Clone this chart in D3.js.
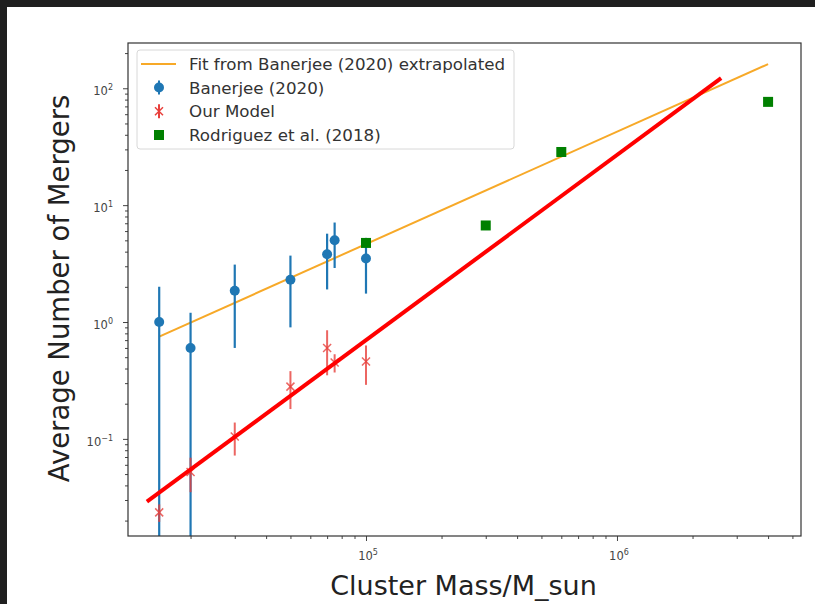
<!DOCTYPE html>
<html><head><meta charset="utf-8">
<script src="https://cdn.jsdelivr.net/npm/d3@7"></script>
<style>
html,body{margin:0;padding:0;background:#1f1f1f;}
svg{display:block;}
</style></head>
<body>
<svg id="chart" width="815" height="604"></svg>
<script>
// ---- data ----
const blueMass = [15000, 20000, 30000, 50000, 70000, 75000, 100000];
const blueVal  = [1.0, 0.6, 1.85, 2.3, 3.8, 5.0, 3.5];
const blueErr  = [1.0, 0.6, 1.25, 1.4, 1.9, 2.1, 1.75];

const redMass = [15000, 20000, 30000, 50000, 70000, 75000, 100000];
const redVal  = [0.0235, 0.052, 0.105, 0.28, 0.6, 0.45, 0.46];
const redErr  = [0.004, 0.017, 0.033, 0.1, 0.25, 0.08, 0.17];

const fitMass = [15000, 4000000];
const fitVal  = [0.75, 161];

const modelLineMass = [13400, 2600000];
const modelLineVal  = [0.029, 122];

const rodMass = [100000, 300000, 600000, 4000000];
const rodVal  = [4.75, 6.7, 28.5, 76.5];

const xMajor = [1e5, 1e6];
const xMajorExp = ["5", "6"];
const yMajor = [0.1, 1, 10, 100];
const yMajorExp = ["\u22121", "0", "1", "2"];

const legendLabels = ["Fit from Banerjee (2020) extrapolated", "Banerjee (2020)", "Our Model", "Rodriguez et al. (2018)"];

// ---- layout ----
const svg = d3.select("#chart");
svg.append("rect").attr("x", 7).attr("y", 7).attr("width", 808).attr("height", 597).attr("fill", "#ffffff");

const L = 128, R = 801, T = 43, B = 536;
const x = d3.scaleLog().domain([11266, 5.41e6]).range([L, R]);
const y = d3.scaleLog().domain([0.01476, 244]).range([B, T]);

const blue = "#1f77b4", red = "#ff0000", orange = "#f7a928", green = "#008000", redErrCol = "#e8403c";

const xMinor = [], yMinor = [];
for (let e = 4; e <= 6; e++) for (let k = 2; k <= 9; k++) { const v = k * Math.pow(10, e); if (v > 11266 && v < 5.41e6) xMinor.push(v); }
for (let e = -2; e <= 2; e++) for (let k = 2; k <= 9; k++) { const v = k * Math.pow(10, e); if (v > 0.01476 && v < 244) yMinor.push(v); }

// axes ticks
const gx = svg.append("g").attr("transform", `translate(0,${B})`);
gx.call(d3.axisBottom(x).tickValues(xMinor).tickSize(3).tickFormat(""));
const gxM = svg.append("g").attr("transform", `translate(0,${B})`);
gxM.call(d3.axisBottom(x).tickValues(xMajor).tickSize(5).tickFormat(""));
const gy = svg.append("g").attr("transform", `translate(${L},0)`);
gy.call(d3.axisLeft(y).tickValues(yMinor).tickSize(3).tickFormat(""));
const gyM = svg.append("g").attr("transform", `translate(${L},0)`);
gyM.call(d3.axisLeft(y).tickValues(yMajor).tickSize(5).tickFormat(""));
[gx, gxM, gy, gyM].forEach(g => { g.select(".domain").remove(); g.selectAll("line").attr("stroke", "#444"); });

// tick labels
xMajor.forEach((v, i) => {
  const t = svg.append("text").attr("x", x(v) + 2).attr("y", B + 24).attr("text-anchor", "middle")
    .attr("font-family", "DejaVu Sans").attr("font-size", 11.5).attr("fill", "#444");
  t.append("tspan").text("10");
  t.append("tspan").attr("dy", -5).attr("font-size", 8).text(xMajorExp[i]);
});
yMajor.forEach((v, i) => {
  const t = svg.append("text").attr("x", L - 15).attr("y", y(v) + 7).attr("text-anchor", "end")
    .attr("font-family", "DejaVu Sans").attr("font-size", 11.5).attr("fill", "#444");
  t.append("tspan").text("10");
  t.append("tspan").attr("dy", -5).attr("font-size", 8).text(yMajorExp[i]);
});

// axis labels
svg.append("text").attr("x", 463.5).attr("y", 595).attr("text-anchor", "middle")
  .attr("font-family", "DejaVu Sans").attr("font-size", 27).attr("fill", "#222").text("Cluster Mass/M_sun");
svg.append("text").attr("transform", `translate(69,288.5) rotate(-90)`).attr("text-anchor", "middle")
  .attr("font-family", "DejaVu Sans").attr("font-size", 27.5).attr("fill", "#222").text("Average Number of Mergers");

// plot content with clip
svg.append("clipPath").attr("id", "clip").append("rect").attr("x", L).attr("y", T).attr("width", R - L).attr("height", B - T);
const plot = svg.append("g").attr("clip-path", "url(#clip)");
const line = d3.line().x(d => x(d[0])).y(d => y(d[1]));
const safeY = v => (v <= 0 ? B + 20 : y(v));

// orange fit line
plot.append("path").datum(fitMass.map((m, i) => [m, fitVal[i]])).attr("d", line)
  .attr("fill", "none").attr("stroke", orange).attr("stroke-width", 2);

// blue errorbars
blueMass.forEach((m, i) => {
  plot.append("line").attr("x1", x(m)).attr("x2", x(m))
    .attr("y1", safeY(blueVal[i] - blueErr[i])).attr("y2", y(blueVal[i] + blueErr[i]))
    .attr("stroke", blue).attr("stroke-width", 2.2);
  plot.append("circle").attr("cx", x(m)).attr("cy", y(blueVal[i])).attr("r", 5).attr("fill", blue);
});

// red errorbars
redMass.forEach((m, i) => {
  plot.append("line").attr("x1", x(m)).attr("x2", x(m))
    .attr("y1", safeY(redVal[i] - redErr[i])).attr("y2", y(redVal[i] + redErr[i]))
    .attr("stroke", redErrCol).attr("stroke-width", 2).attr("opacity", 0.8);
  const cx = x(m), cy = y(redVal[i]), s = 4;
  plot.append("path").attr("d", `M${cx - s},${cy - s}L${cx + s},${cy + s}M${cx - s},${cy + s}L${cx + s},${cy - s}`)
    .attr("stroke", redErrCol).attr("stroke-width", 1.5).attr("opacity", 0.8);
});

// red model line
plot.append("path").datum(modelLineMass.map((m, i) => [m, modelLineVal[i]])).attr("d", line)
  .attr("fill", "none").attr("stroke", red).attr("stroke-width", 4);

// green squares
rodMass.forEach((m, i) => {
  plot.append("rect").attr("x", x(m) - 5).attr("y", y(rodVal[i]) - 5).attr("width", 10).attr("height", 10).attr("fill", green);
});

// frame
svg.append("rect").attr("x", L).attr("y", T).attr("width", R - L).attr("height", B - T)
  .attr("fill", "none").attr("stroke", "#333").attr("stroke-width", 1.2);

// legend
const lg = svg.append("g");
lg.append("rect").attr("x", 137).attr("y", 50).attr("width", 377).attr("height", 99).attr("rx", 3)
  .attr("fill", "#fff").attr("fill-opacity", 0.8).attr("stroke", "#d8d8d8");
const rowY = [64, 87.5, 111.3, 135];
lg.append("line").attr("x1", 141).attr("x2", 176).attr("y1", rowY[0]).attr("y2", rowY[0]).attr("stroke", orange).attr("stroke-width", 2);
lg.append("line").attr("x1", 159).attr("x2", 159).attr("y1", rowY[1] - 7).attr("y2", rowY[1] + 7).attr("stroke", blue).attr("stroke-width", 2);
lg.append("circle").attr("cx", 159).attr("cy", rowY[1]).attr("r", 5).attr("fill", blue);
lg.append("line").attr("x1", 159).attr("x2", 159).attr("y1", rowY[2] - 7).attr("y2", rowY[2] + 7).attr("stroke", redErrCol).attr("stroke-width", 2);
lg.append("path").attr("d", `M155,${rowY[2] - 4}L163,${rowY[2] + 4}M155,${rowY[2] + 4}L163,${rowY[2] - 4}`).attr("stroke", redErrCol).attr("stroke-width", 1.5);
lg.append("rect").attr("x", 154).attr("y", rowY[3] - 5).attr("width", 10).attr("height", 10).attr("fill", green);
legendLabels.forEach((s, i) => {
  lg.append("text").attr("x", 189).attr("y", rowY[i] + 6).attr("font-family", "DejaVu Sans").attr("font-size", 16.7)
    .attr("fill", "#333").text(s);
});
</script>
</body></html>
